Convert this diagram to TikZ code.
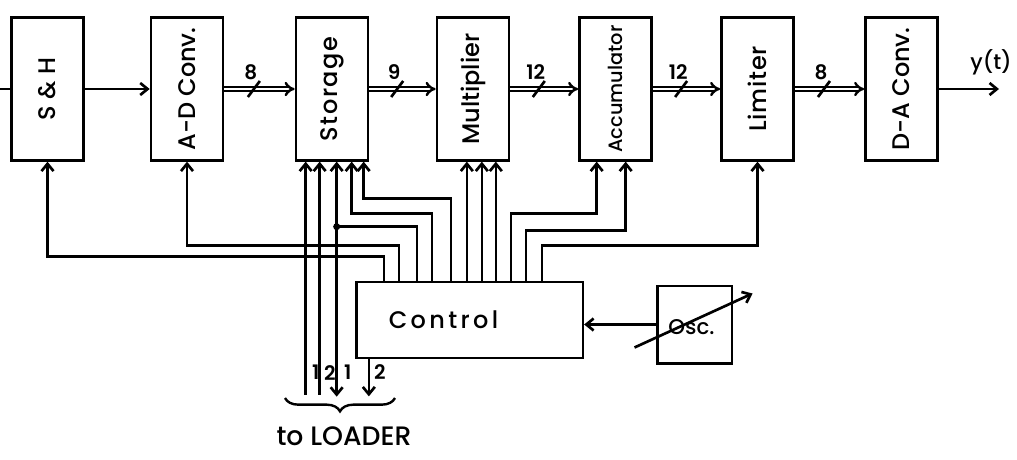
\documentclass[tikz,border=0pt]{standalone}
\usepackage{fontspec}
\setmainfont{Poppins}[UprightFont={* Medium}, BoldFont={* SemiBold}]
\usetikzlibrary{arrows.meta,calc,decorations.pathreplacing}

\tikzset{every picture/.style={line width=2pt}}
\tikzset{
  blk/.style={draw, minimum width=54pt, minimum height=107pt, inner sep=0pt, font=\fontsize{#1}{#1}\selectfont},
  blk/.default=18,
  ctlbox/.style={draw, minimum width=170pt, minimum height=57pt, inner sep=0pt},
  ctlfont/.style={inner sep=0pt, font=\fontsize{18}{18}\selectfont\addfontfeature{LetterSpace=14}},
  oscbox/.style={draw, minimum width=56pt, minimum height=58pt, inner sep=0pt, font=\fontsize{16}{16}\selectfont},
  bus/.style={double, double distance=1.6pt, line width=1.8pt, -{Implies}},
  num/.style={inner sep=0.75pt, font=\fontsize{15}{15}\selectfont\bfseries},
}

\begin{document}
\begin{tikzpicture}[x=0.75pt,y=0.75pt,yscale=-1,xscale=1, >={Straight Barb[length=5.5pt,width=9pt]}]
\useasboundingbox (0,0) rectangle (1017,460);

%Shape: Rectangle [blocks]
\node[blk] (sh) at (47.5,89) {\rotatebox{90}{S \& H}};
\node[blk] (ad) at (187,89) {\rotatebox{90}{A-D Conv.}};
\node[blk] (st) at (332,89) {\rotatebox{90}{\addfontfeature{LetterSpace=7}Storage}};
\node[blk] (mu) at (473,89) {\rotatebox{90}{Multiplier}};
\node[blk=14.5] (ac) at (615.5,89) {\rotatebox{90}{Accumulator}};
\node[blk] (li) at (757.5,89) {\rotatebox{90}{\addfontfeature{LetterSpace=3}Limiter}};
\node[blk] (da) at (901.5,89) {\rotatebox{90}{D-A Conv.}};
%Shape: Rectangle [control, oscillator]
\node[ctlbox] (ctl) at (469.5,320) {};
\node[ctlfont] (ctltxt) at ($(ctl.center)+(-26,0)$) {Control};
\node[oscbox] (osc) at (694.5,324.5) {};
\node[inner sep=0pt, font=\fontsize{16}{16}\selectfont] (osctxt) at ($(osc.center)+(-3,3)$) {Osc.};

%taps on top of control, inputs of storage and accumulator
\foreach \n/\d in {1/29,2/44,3/62,4/77,5/96,6/112,7/127,8/141,9/156,10/171,11/187}
  \path (ctl.north west) ++(\d,0) coordinate (c\n);
\foreach \n/\d in {1/11,2/25,3/42,4/57,5/69}
  \path (st.south west) ++(\d,0) coordinate (s\n);
\path (ac.south west) ++(18.5,0) coordinate (a1) ++(29,0) coordinate (a2);
\path (s1) ++(0,233) coordinate (l1);
\path (s2) ++(0,233) coordinate (l2);
\path (s3) ++(0,235) coordinate (l3);
\path (ctl.south west) ++(14,0) coordinate (c0) ++(0,37) coordinate (l4);
\path (c3) ++(0,-54) coordinate (k);
\coordinate (j) at (k -| s3);
\coordinate (in) at (0,89);
\coordinate (out) at (999,89);

%Straight Lines [signal path]
\draw (in) -- (sh);
\draw[->] (sh) -- (ad);
\draw[->] (da) -- (out);
\foreach \a/\b/\w in {ad/st/8,st/mu/9,mu/ac/12,ac/li/12,li/da/8}{
  \draw[bus] (\a) -- (\b);
  \draw ($(\a.east)!0.42!(\b.west)$) ++(-6,8) -- ++(12,-16);
  \path ($(\a.east)!0.42!(\b.west)$) ++(-3,-17) node[num] (w\a) {\w};
}

%Straight Lines [control wires]
\draw[->] (c1) -- ++(0,-24) -| (sh);
\draw[->] (c2) -- ++(0,-35) -| (ad);
\draw (c3) -- (k) -- (j);
\draw[->] (j) -- (s3);
\draw[->] (j) -- (l3);
\fill (j) circle (3.5);
\draw[->] (c4) -- ++(0,-67) -| (s4);
\draw[->] (c5) -- ++(0,-82) -| (s5);
\foreach \n in {6,7,8}
  \draw[->] (c\n) -- (c\n |- mu.south);
\draw[->] (c9) -- ++(0,-67) -| (a1);
\draw[->] (c10) -- ++(0,-50) -| (a2);
\draw[->] (c11) -- ++(0,-35) -| (li);
\draw[->] (c0) -- (l4);
\draw[->] (l1) -- (s1);
\draw[->] (l2) -- (s2);
\draw[->] (osc.west) -- (osc.west -| ctl.east);

%Straight Lines [variable oscillator]
\path (osc.center) ++(-60,23) coordinate (v1);
\path (osc.center) ++(58,-31) coordinate (v2);
\draw[->] (v1) -- (v2);

%Brace [loader]
\coordinate (b1) at (285,398);
\coordinate (b2) at (395,398);
\draw[line width=1.8pt, decorate, decoration={brace, amplitude=10pt, mirror}] (b1) -- (b2);

% Text Node
\path (l1) ++(4,-22) node[num, anchor=west] (n1) {1};
\path (l2) ++(2,-22) node[num, anchor=west] (n2) {2};
\path (l3) ++(5,-24) node[num, anchor=west] (n3) {1};
\path (l4) ++(3,-24) node[num, anchor=west] (n4) {2};
% Text Node
\node[font=\fontsize{20}{20}\selectfont] (ldr) at (344,436) {to LOADER};
% Text Node
\node[font=\fontsize{16}{16}\selectfont] (yt) at (991,62) {y(t)};

\end{tikzpicture}
\end{document}
